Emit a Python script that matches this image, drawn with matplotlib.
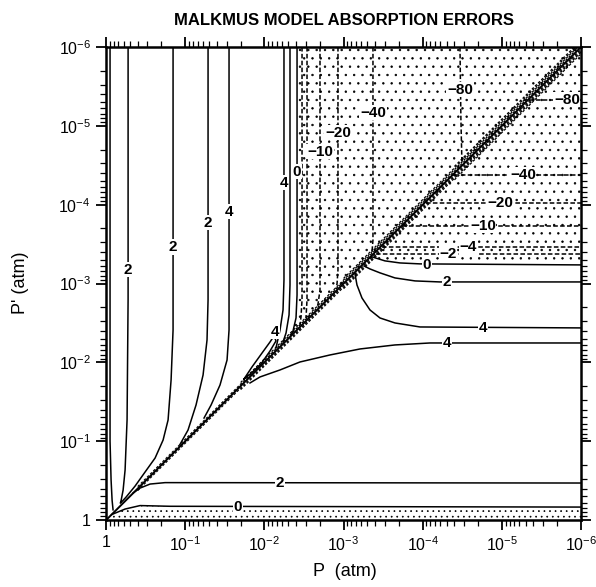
import matplotlib
matplotlib.use('Agg')
import matplotlib.pyplot as plt
import numpy as np
from matplotlib.ticker import FixedLocator, FixedFormatter, LogLocator, NullFormatter

plt.rcParams['font.family'] = ['Liberation Sans', 'DejaVu Sans']
plt.rcParams['mathtext.fontset'] = 'custom'
plt.rcParams['mathtext.rm'] = 'Liberation Sans'
plt.rcParams['mathtext.it'] = 'Liberation Sans:italic'
plt.rcParams['mathtext.bf'] = 'Liberation Sans:bold'
plt.rcParams['hatch.linewidth'] = 0.5

decades = [1, 1e-1, 1e-2, 1e-3, 1e-4, 1e-5, 1e-6]
decade_labels = ['1', r'$10^{-1}$', r'$10^{-2}$', r'$10^{-3}$',
                 r'$10^{-4}$', r'$10^{-5}$', r'$10^{-6}$']

# contour lines, given as (log10 P, log10 P') pairs
# region P > P' (upper left)
c2_edge = [(-0.05, -6.0), (-0.05, -1.0), (-0.063, -0.51), (-0.076, -0.25), (-0.088, -0.13)]
c2_loop = [(-0.278, -6.0), (-0.278, -2.8), (-0.265, -1.27), (-0.24, -0.635), (-0.215, -0.38),
           (-0.19, -0.25), (-0.18, -0.215), (-0.21, -0.245), (-0.253, -0.292), (-0.366, -0.431),
           (-0.492, -0.609), (-0.619, -0.787), (-0.72, -1.015), (-0.783, -1.269),
           (-0.821, -1.777), (-0.846, -2.411), (-0.846, -6.0)]
c2_mid = [(-1.288, -6.0), (-1.288, -2.792), (-1.275, -2.284), (-1.225, -1.84),
          (-1.136, -1.459), (-1.035, -1.142), (-0.934, -0.96)]
c4_mid = [(-1.553, -6.0), (-1.553, -2.411), (-1.528, -2.03), (-1.439, -1.713),
          (-1.326, -1.459), (-1.237, -1.294)]
c4_tongue = [(-1.742, -1.789), (-1.843, -1.942), (-1.97, -2.119), (-2.071, -2.259),
             (-2.121, -2.335), (-2.146, -2.272), (-2.071, -2.145), (-1.957, -1.98),
             (-1.831, -1.86), (-1.742, -1.789)]
c4_ul = [(-2.247, -6.0), (-2.247, -3.046), (-2.235, -2.665), (-2.197, -2.411), (-2.146, -2.183)]
c2_ul = [(-2.323, -6.0), (-2.323, -2.982), (-2.311, -2.602), (-2.273, -2.373), (-2.235, -2.259)]
c0_ul = [(-2.412, -6.0), (-2.412, -2.855), (-2.399, -2.563), (-2.361, -2.398), (-2.336, -2.348)]
cm2_ul = [(-2.475, -6.0), (-2.475, -2.792), (-2.462, -2.576), (-2.449, -2.475)]
cm4_ul = [(-2.538, -6.0), (-2.538, -2.792), (-2.525, -2.563)]
cm10_ul = [(-2.702, -6.0), (-2.702, -2.919), (-2.677, -2.741), (-2.664, -2.69)]
cm20_ul = [(-2.929, -6.0), (-2.929, -3.173), (-2.917, -2.995), (-2.904, -2.931)]
cm40_ul = [(-3.371, -6.0), (-3.371, -3.553), (-3.359, -3.401)]
cm80_ul = [(-4.47, -6.0), (-4.482, -5.076), (-4.495, -4.518)]

# region P < P' (lower right)
c0_low = [(-0.07, -0.07), (-0.24, -0.14), (-0.429, -0.184), (-0.808, -0.175), (-6.0, -0.165)]
c2_low = [(-0.341, -0.343), (-0.429, -0.406), (-0.556, -0.457), (-0.745, -0.475), (-6.0, -0.47)]
c4_lr_a = [(-1.818, -1.739), (-1.944, -1.815), (-2.197, -1.904), (-2.449, -2.005),
           (-2.828, -2.094), (-3.207, -2.17), (-3.649, -2.221), (-4.091, -2.246), (-6.0, -2.246)]
c4_lr_b = [(-3.144, -3.122), (-3.169, -2.982), (-3.232, -2.817), (-3.333, -2.665),
           (-3.46, -2.563), (-3.649, -2.5), (-3.965, -2.449), (-6.0, -2.437)]
c2_lr = [(-3.258, -3.223), (-3.333, -3.185), (-3.46, -3.135), (-3.649, -3.071),
         (-3.902, -3.033), (-4.217, -3.02), (-6.0, -3.02)]
c0_lr = [(-3.359, -3.338), (-3.523, -3.287), (-3.712, -3.261), (-3.965, -3.249), (-6.0, -3.236)]
cm2_lr = [(-3.409, -3.376), (-6.0, -3.376)]
cm4_lr = [(-3.485, -3.464), (-6.0, -3.464)]
cm10_lr = [(-3.737, -3.731), (-6.0, -3.731)]
cm20_lr = [(-4.04, -4.023), (-6.0, -4.023)]
cm40_lr = [(-4.394, -4.378), (-6.0, -4.378)]
cm80_lr = [(-5.341, -5.33), (-6.0, -5.33)]

solid_lines = [c2_edge, c2_loop, c2_mid, c4_mid, c4_tongue, c4_ul, c2_ul, c0_ul,
               c0_low, c2_low, c4_lr_a, c4_lr_b, c2_lr, c0_lr]
dashed_lines = [cm2_ul, cm4_ul, cm10_ul, cm20_ul, cm40_ul, cm80_ul,
                cm2_lr, cm4_lr, cm10_lr, cm20_lr, cm40_lr, cm80_lr]

# contour labels: text, log10 P, log10 P'
labels = [('2', -0.278, -3.173), ('2', -0.846, -3.464), ('2', -1.288, -3.769),
          ('4', -1.553, -3.909), ('4', -2.13, -2.39), ('4', -2.247, -4.277),
          ('0', -2.412, -4.416), ('\u221210', -2.702, -4.67), ('\u221220', -2.929, -4.911),
          ('\u221240', -3.371, -5.165), ('\u221280', -4.47, -5.457),
          ('\u221280', -5.821, -5.33), ('\u221240', -5.265, -4.378),
          ('\u221220', -4.975, -4.023), ('\u221210', -4.76, -3.731),
          ('\u22124', -4.571, -3.464), ('\u22122', -4.318, -3.376),
          ('0', -4.053, -3.236), ('2', -4.306, -3.02), ('4', -4.76, -2.437),
          ('4', -4.306, -2.246), ('2', -2.197, -0.47), ('0', -1.667, -0.17)]

# the P = P' diagonal and the packed contours running along it
diag = [(0.0, 0.0), (-6.0, -6.0)]
diag_band = [(-0.4, 0.025), (-0.4, -0.025), (-1.7, 0.045), (-1.7, -0.045),
             (-3.0, 0.065), (-3.0, -0.065), (-4.4, 0.085), (-4.4, -0.085)]


def xy(line):
    a = np.array(line, dtype=float)
    return 10.0 ** a[:, 0], 10.0 ** a[:, 1]


fig = plt.figure(figsize=(5.96, 5.87), dpi=100)
ax = fig.add_axes([0.178, 0.114, 0.797, 0.806])
ax.set_xscale('log')
ax.set_yscale('log')
ax.set_xlim(1, 1e-6)
ax.set_ylim(1, 1e-6)

# stippled negative regions
upper = c0_ul + c0_lr + [(-6.0, -6.0)]
px, py = xy(upper)
ax.fill(px, py, facecolor='white', edgecolor='black', hatch='..', linewidth=0, zorder=1)
bottom = c0_low + [(-6.0, 0.0), (0.0, 0.0)]
px, py = xy(bottom)
ax.fill(px, py, facecolor='white', edgecolor='black', hatch='...', linewidth=0, zorder=1)

for line in solid_lines:
    x, y = xy(line)
    ax.plot(x, y, color='black', lw=1.1, zorder=3)
for line in dashed_lines:
    x, y = xy(line)
    ax.plot(x, y, color='black', lw=1.1, ls=(0, (3, 1.5)), zorder=3)

x, y = xy(diag)
ax.plot(x, y, color='black', lw=1.4, zorder=4)
for start, off in diag_band:
    x, y = xy([(start, start + off), (-6.0, -6.0 + off)])
    ax.plot(x, y, color='black', lw=0.9, ls=(0, (2, 1.5)), zorder=4)

for txt, u, v in labels:
    ax.text(10.0 ** u, 10.0 ** v, txt, ha='center', va='center', fontsize=11,
            fontweight='bold', zorder=5,
            bbox=dict(facecolor='white', edgecolor='none', pad=0.4))

for axis in (ax.xaxis, ax.yaxis):
    axis.set_major_locator(FixedLocator(decades))
    axis.set_major_formatter(FixedFormatter(decade_labels))
    axis.set_minor_locator(LogLocator(base=10, subs=np.arange(2, 10), numticks=20))
    axis.set_minor_formatter(NullFormatter())

ax.tick_params(which='both', direction='out', top=True, right=True, labelsize=11.5)
ax.tick_params(which='major', length=7, width=1.3, pad=4)
ax.tick_params(which='minor', length=4, width=0.9)
for s in ax.spines.values():
    s.set_linewidth(1.8)

fig.text(0.578, 0.965, 'MALKMUS MODEL ABSORPTION ERRORS', ha='center', va='center',
         fontsize=12, fontweight='bold')
fig.text(0.578, 0.026, 'P  (atm)', ha='center', va='center', fontsize=13)
fig.text(0.034, 0.518, "P' (atm)", ha='center', va='center', rotation=90, fontsize=13)

fig.savefig('out.png', dpi=100)
